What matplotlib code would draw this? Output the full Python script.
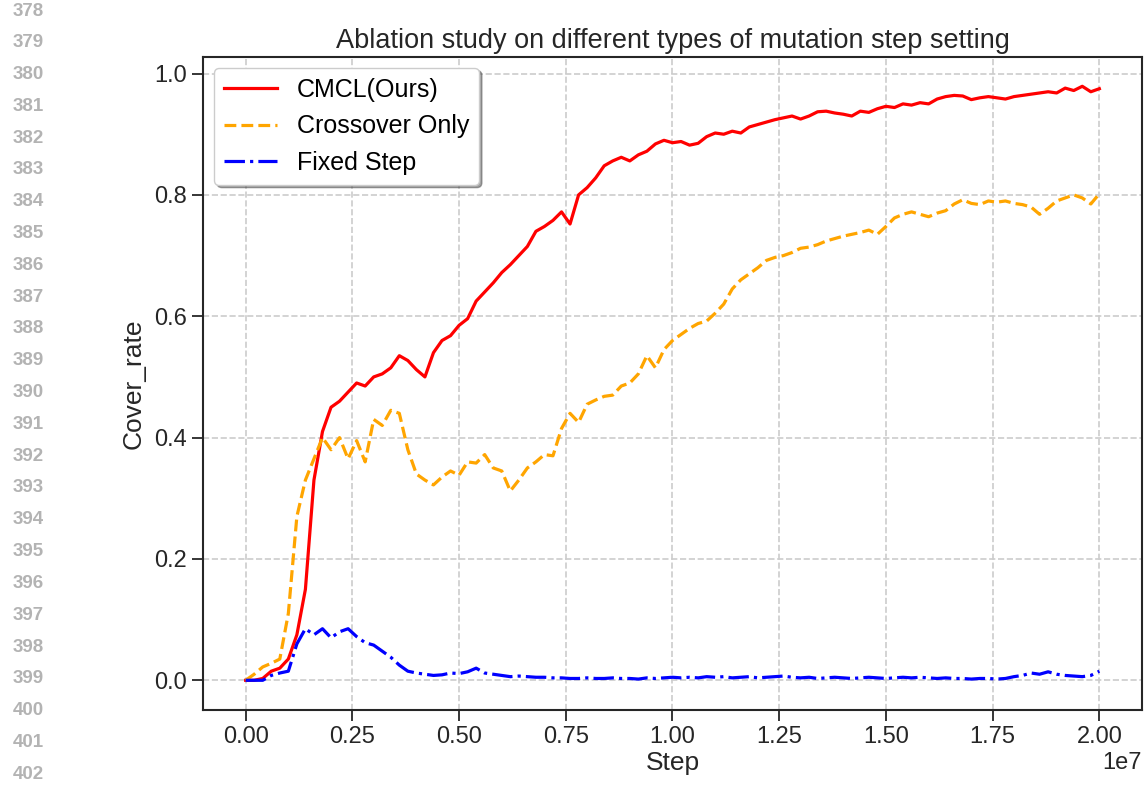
import numpy as np
import matplotlib
matplotlib.use("Agg")
import matplotlib.pyplot as plt

plt.rcParams['font.family'] = ['Liberation Sans', 'DejaVu Sans']

# steps, in units of 1e6, every 0.2e6
steps = np.arange(0, 20.01, 0.2) * 1e6

cmcl = [0.000, 0.000, 0.003, 0.015, 0.020, 0.035, 0.075, 0.150, 0.330, 0.410,
        0.450, 0.460, 0.475, 0.490, 0.485, 0.500, 0.505, 0.515, 0.535, 0.527,
        0.512, 0.500, 0.540, 0.560, 0.568, 0.585, 0.596, 0.625, 0.640, 0.655,
        0.672, 0.685, 0.700, 0.715, 0.740, 0.748, 0.758, 0.772, 0.752, 0.800,
        0.812, 0.828, 0.848, 0.856, 0.862, 0.856, 0.866, 0.872, 0.884, 0.890,
        0.886, 0.888, 0.882, 0.885, 0.896, 0.902, 0.900, 0.905, 0.902, 0.912,
        0.916, 0.920, 0.924, 0.927, 0.930, 0.925, 0.930, 0.937, 0.938, 0.935,
        0.933, 0.930, 0.938, 0.936, 0.942, 0.946, 0.944, 0.950, 0.948, 0.952,
        0.950, 0.958, 0.962, 0.964, 0.963, 0.957, 0.960, 0.962, 0.960, 0.958,
        0.962, 0.964, 0.966, 0.968, 0.970, 0.968, 0.976, 0.972, 0.979, 0.970,
        0.975]

crossover = [0.000, 0.010, 0.022, 0.028, 0.035, 0.110, 0.270, 0.330, 0.365, 0.400,
             0.380, 0.400, 0.365, 0.395, 0.360, 0.430, 0.420, 0.445, 0.440, 0.380,
             0.340, 0.330, 0.322, 0.335, 0.345, 0.338, 0.360, 0.358, 0.372, 0.350,
             0.345, 0.312, 0.330, 0.350, 0.360, 0.372, 0.370, 0.415, 0.440, 0.425,
             0.455, 0.462, 0.468, 0.470, 0.485, 0.490, 0.505, 0.535, 0.515, 0.545,
             0.560, 0.570, 0.580, 0.588, 0.592, 0.605, 0.620, 0.645, 0.660, 0.670,
             0.680, 0.692, 0.697, 0.700, 0.705, 0.712, 0.714, 0.718, 0.724, 0.728,
             0.732, 0.735, 0.738, 0.742, 0.735, 0.748, 0.762, 0.768, 0.772, 0.768,
             0.764, 0.770, 0.774, 0.785, 0.792, 0.786, 0.784, 0.790, 0.788, 0.790,
             0.786, 0.784, 0.780, 0.768, 0.778, 0.790, 0.795, 0.800, 0.795, 0.785,
             0.802]

fixed = [0.000, 0.000, 0.000, 0.008, 0.012, 0.015, 0.060, 0.085, 0.075, 0.085,
         0.070, 0.080, 0.085, 0.072, 0.062, 0.058, 0.048, 0.038, 0.025, 0.015,
         0.012, 0.010, 0.008, 0.009, 0.012, 0.011, 0.014, 0.020, 0.012, 0.010,
         0.008, 0.006, 0.007, 0.006, 0.005, 0.005, 0.004, 0.004, 0.003, 0.003,
         0.004, 0.003, 0.003, 0.004, 0.003, 0.003, 0.002, 0.004, 0.003, 0.004,
         0.005, 0.004, 0.005, 0.004, 0.006, 0.005, 0.006, 0.004, 0.005, 0.006,
         0.004, 0.005, 0.006, 0.007, 0.005, 0.004, 0.005, 0.003, 0.004, 0.005,
         0.004, 0.003, 0.004, 0.005, 0.004, 0.003, 0.004, 0.005, 0.004, 0.005,
         0.004, 0.003, 0.004, 0.003, 0.003, 0.002, 0.003, 0.003, 0.002, 0.003,
         0.006, 0.008, 0.012, 0.010, 0.014, 0.010, 0.008, 0.007, 0.006, 0.008,
         0.015]

line_numbers = list(range(378, 403))

fig = plt.figure(figsize=(11.48, 7.86), dpi=100)
ax = fig.add_axes([0.1768, 0.0967, 0.8180, 0.8313])

ax.plot(steps, cmcl, '-', color='red', linewidth=2.3, label='CMCL(Ours)')
ax.plot(steps, crossover, '--', color='orange', linewidth=2.3, label='Crossover Only')
ax.plot(steps, fixed, '-.', color='blue', linewidth=2.3, label='Fixed Step')

ax.set_xticks(np.arange(0, 2.01e7, 0.25e7))
ax.set_yticks([0.0, 0.2, 0.4, 0.6, 0.8, 1.0])
ax.tick_params(labelsize=17, length=8, width=1.3, colors='#262626', direction='out')
ax.xaxis.get_offset_text().set_fontsize(17)
ax.grid(True, linestyle='--', color='#cccccc', linewidth=1.2)
for sp in ax.spines.values():
    sp.set_color('#262626')
    sp.set_linewidth(1.5)

ax.set_xlabel('Step', fontsize=19, color='#262626', labelpad=2)
ax.set_ylabel('Cover_rate', fontsize=19, color='#262626', labelpad=6)
ax.set_title('Ablation study on different types of mutation step setting',
             fontsize=19.5, color='#262626')

leg = ax.legend(loc='upper left', fontsize=18, shadow=True, fancybox=True,
                framealpha=1, edgecolor='#cccccc', handlelength=2.1,
                borderaxespad=0.45)

# line numbers of the page the figure sits in
for i, n in enumerate(line_numbers):
    fig.text(13 / 1148, 1 - (11 + i * 31.8) / 786, str(n), fontsize=13.5,
             fontweight='bold', color='#b3b3b3', ha='left', va='center')

plt.savefig('out.png', dpi=100)
